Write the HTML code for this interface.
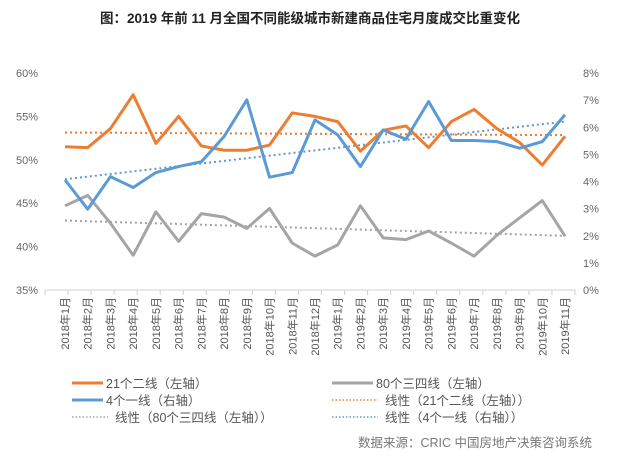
<!DOCTYPE html>
<html><head><meta charset="utf-8"><style>
body{margin:0;background:#fff;width:620px;height:454px;overflow:hidden;font-family:"Liberation Sans","Noto Sans CJK SC",sans-serif}
svg text{font-family:"Liberation Sans","Noto Sans CJK SC",sans-serif}
</style></head><body>
<svg id="chart" width="620" height="454">
<text x="310" y="23" text-anchor="middle" font-size="13.5" font-weight="bold" fill="#222">图：2019 年前 11 月全国不同能级城市新建商品住宅月度成交比重变化</text>
<g id="axes"></g><g id="marks"></g>
<g font-size="12.5" fill="#555">
<g><line x1="72" y1="383" x2="103" y2="383" stroke="#ED7D31" stroke-width="3"/><text x="106" y="388">21个二线（左轴）</text></g>
<g><line x1="332" y1="383" x2="373" y2="383" stroke="#A5A5A5" stroke-width="3"/><text x="376" y="388">80个三四线（左轴）</text></g>
<g><line x1="72" y1="400" x2="103" y2="400" stroke="#5B9BD5" stroke-width="3"/><text x="106" y="405">4个一线（右轴）</text></g>
<g><line x1="332" y1="400" x2="378" y2="400" stroke="#ED7D31" stroke-width="1.5" stroke-dasharray="1.5,2"/><text x="385" y="405">线性（21个二线（左轴））</text></g>
<g><line x1="72" y1="417" x2="108" y2="417" stroke="#A5A5A5" stroke-width="1.5" stroke-dasharray="1.5,2"/><text x="115" y="422">线性（80个三四线（左轴））</text></g>
<g><line x1="332" y1="417" x2="378" y2="417" stroke="#5B9BD5" stroke-width="1.5" stroke-dasharray="1.5,2"/><text x="385" y="422">线性（4个一线（右轴））</text></g>
</g>
<text x="592" y="447" text-anchor="end" font-size="12.5" fill="#777">数据来源：CRIC 中国房地产决策咨询系统</text>
</svg>
<script>
const categories=["2018年1月","2018年2月","2018年3月","2018年4月","2018年5月","2018年6月","2018年7月","2018年8月","2018年9月","2018年10月","2018年11月","2018年12月","2019年1月","2019年2月","2019年3月","2019年4月","2019年5月","2019年6月","2019年7月","2019年8月","2019年9月","2019年10月","2019年11月"];
const tier2=[51.5,51.4,53.6,57.5,51.9,55.0,51.6,51.1,51.1,51.7,55.4,55.0,54.4,51.0,53.4,53.9,51.4,54.4,55.8,53.6,52.0,49.4,52.7];
const tier34=[44.7,45.9,42.7,39.0,44.0,40.6,43.8,43.4,42.1,44.4,40.4,38.9,40.2,44.7,41.0,40.8,41.8,40.4,38.9,41.3,43.3,45.3,41.2];
const tier1=[4.06,2.98,4.18,3.78,4.33,4.55,4.73,5.66,7.01,4.16,4.33,6.27,5.72,4.55,5.90,5.56,6.95,5.51,5.51,5.47,5.23,5.47,6.46];
const leftTicks=[35,40,45,50,55,60];
const rightTicks=[0,1,2,3,4,5,6,7,8];
const NS="http://www.w3.org/2000/svg";
const X0=65,X1=565,YT=73,YB=290,PL=45,PR=575;
const x=i=>X0+i*(X1-X0)/(categories.length-1);
const yL=v=>YB-(v-35)/25*(YB-YT);
const yR=v=>YB-v/8*(YB-YT);
function mk(t,a,p){const e=document.createElementNS(NS,t);for(const k in a)e.setAttribute(k,a[k]);p.appendChild(e);return e;}
const ax=document.getElementById('axes'),mg=document.getElementById('marks');
const base=mk('line',{x1:PL,y1:YB,x2:PR,y2:YB,stroke:'#d0d0d0'},ax);


for(let i=0;i<=categories.length;i++){const xx=PL+i*(PR-PL)/categories.length;mk('line',{x1:xx,y1:YB,x2:xx,y2:YB+5,stroke:'#d0d0d0'},ax);}
leftTicks.forEach(v=>{const t=mk('text',{x:38,y:yL(v)+4,'text-anchor':'end','font-size':11,fill:'#666'},ax);t.textContent=v+'%';

});
rightTicks.forEach(v=>{const t=mk('text',{x:583,y:yR(v)+4,'font-size':11,fill:'#666'},ax);t.textContent=v+'%';

});
categories.forEach((c,i)=>{const t=mk('text',{transform:`translate(${x(i)+4},297) rotate(-90)`,'text-anchor':'end','font-size':11,fill:'#555'},ax);t.textContent=c;

});
function trend(arr,f,col,name){const n=arr.length;let sx=0,sy=0,sxy=0,sxx=0;arr.forEach((v,i)=>{sx+=i;sy+=v;sxy+=i*v;sxx+=i*i;});const b=(n*sxy-sx*sy)/(n*sxx-sx*sx),a=(sy-b*sx)/n;
const l=mk('line',{x1:x(0),y1:f(a),x2:x(n-1),y2:f(a+b*(n-1)),stroke:col,'stroke-width':2,'stroke-dasharray':'2,3'},mg);

}
function series(arr,f,col,name){const p=mk('polyline',{points:arr.map((v,i)=>x(i)+','+f(v)).join(' '),fill:'none',stroke:col,'stroke-width':3,'stroke-linejoin':'round'},mg);

}
trend(tier2,yL,'#ED7D31','trendline-tier2');
trend(tier34,yL,'#A5A5A5','trendline-tier34');
trend(tier1,yR,'#5B9BD5','trendline-tier1');
series(tier2,yL,'#ED7D31','line-tier2');
series(tier34,yL,'#A5A5A5','line-tier34');
series(tier1,yR,'#5B9BD5','line-tier1');
</script>
</body></html>
